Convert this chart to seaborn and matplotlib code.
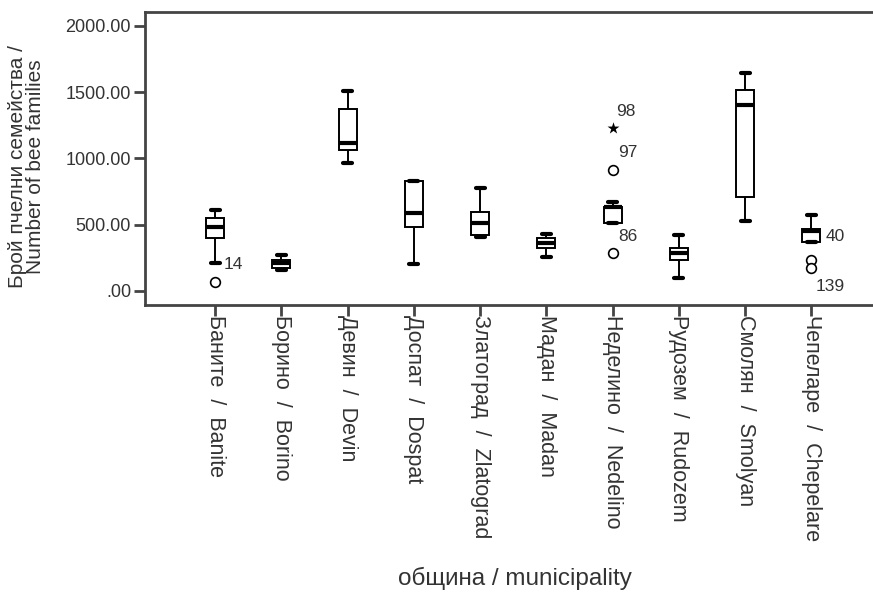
import pandas as pd
import matplotlib
matplotlib.use("Agg")
import matplotlib.pyplot as plt
import seaborn as sns

# Municipalities (x categories)
municipalities = [
    "Баните  /  Banite", "Борино  /  Borino", "Девин  /  Devin",
    "Доспат  /  Dospat", "Златоград  /  Zlatograd", "Мадан  /  Madan",
    "Неделино  /  Nedelino", "Рудозем  /  Rudozem", "Смолян  /  Smolyan",
    "Чепеларе  /  Chepelare",
]

# Five-number summaries: low whisker, Q1, median, Q3, high whisker
whisker_low = [211, 158, 966, 204, 408, 257, 513, 98, 528, 372]
q1 = [400, 174, 1064, 483, 423, 325, 513, 234, 709, 372]
median = [483, 211, 1117, 589, 513, 362, 630, 287, 1404, 455]
q3 = [551, 234, 1374, 830, 596, 400, 634, 325, 1517, 468]
whisker_high = [611, 272, 1509, 830, 777, 430, 672, 423, 1645, 574]

# Outliers (circles) and extremes (stars) with their case numbers
out_muni = ["Баните  /  Banite", "Неделино  /  Nedelino", "Неделино  /  Nedelino",
            "Чепеларе  /  Chepelare", "Чепеларе  /  Chepelare"]
out_value = [68, 913, 287, 234, 174]
ext_muni = ["Неделино  /  Nedelino"]
ext_value = [1230]

# Case labels shown next to the outliers
case_labels = ["14", "98", "97", "86", "40", "139"]
case_muni = ["Баните  /  Banite", "Неделино  /  Nedelino", "Неделино  /  Nedelino",
             "Неделино  /  Nedelino", "Чепеларе  /  Chepelare", "Чепеларе  /  Chepelare"]
case_y = [196, 1351, 1042, 408, 408, 30]
case_dx = [0.13, 0.06, 0.08, 0.09, 0.21, 0.06]

yticks = [0, 500, 1000, 1500, 2000]
ytick_labels = [".00", "500.00", "1000.00", "1500.00", "2000.00"]

sns.set_style("white")
plt.rcParams["font.family"] = ["Liberation Sans", "DejaVu Sans"]

# long table so seaborn computes the boxes itself
rows = []
for i, m in enumerate(municipalities):
    for v in (whisker_low[i], q1[i], median[i], q3[i], whisker_high[i]):
        rows.append({"municipality": m, "value": v})
df = pd.DataFrame(rows)

fig = plt.figure(figsize=(8.73, 5.94), dpi=100)
ax = fig.add_axes([0.166, 0.4865, 0.834, 0.4935])

sns.boxplot(data=df, x="municipality", y="value", order=municipalities,
            whis=(0, 100), showfliers=False, width=0.27, color="white",
            linecolor="black", linewidth=1.4,
            medianprops={"linewidth": 3, "color": "black"},
            capprops={"linewidth": 3, "color": "black"}, ax=ax)

sns.stripplot(x=out_muni, y=out_value, order=municipalities, jitter=False,
              marker="o", size=7, color="white", edgecolor="black",
              linewidth=1.2, ax=ax)
sns.stripplot(x=ext_muni, y=ext_value, order=municipalities, jitter=False,
              marker="*", size=9, color="black", ax=ax)

for lab, m, y, dx in zip(case_labels, case_muni, case_y, case_dx):
    ax.text(municipalities.index(m) + dx, y, lab, fontsize=12.5, color="#333333",
            ha="left", va="center")

ax.set_xlim(-1.06, 9.93)
ax.set_ylim(-106, 2106)
ax.set_yticks(yticks)
ax.set_yticklabels(ytick_labels, fontsize=13, color="#333333")
ax.set_xticks(range(len(municipalities)))
ax.set_xticklabels(municipalities, rotation=270, fontsize=15.5, color="#333333",
                   va="top", ha="center")
ax.tick_params(axis="both", length=8, width=2, color="#444444", pad=2,
               bottom=True, left=True)
ax.tick_params(axis="x", pad=-1)
ax.set_xlabel("")
ax.set_ylabel("")
for side in ["left", "bottom", "top"]:
    ax.spines[side].set_color("#444444")
    ax.spines[side].set_linewidth(2)
ax.spines["right"].set_visible(False)

fig.text(0.030, 0.72, "Брой пчелни семейства /\nNumber of bee families",
         rotation=90, ha="center", va="center", fontsize=15, color="#333333",
         linespacing=0.95)
fig.text(0.59, 0.027, "община / municipality", ha="center", va="center",
         fontsize=17.5, color="#333333")

fig.savefig("out.png", dpi=100)
